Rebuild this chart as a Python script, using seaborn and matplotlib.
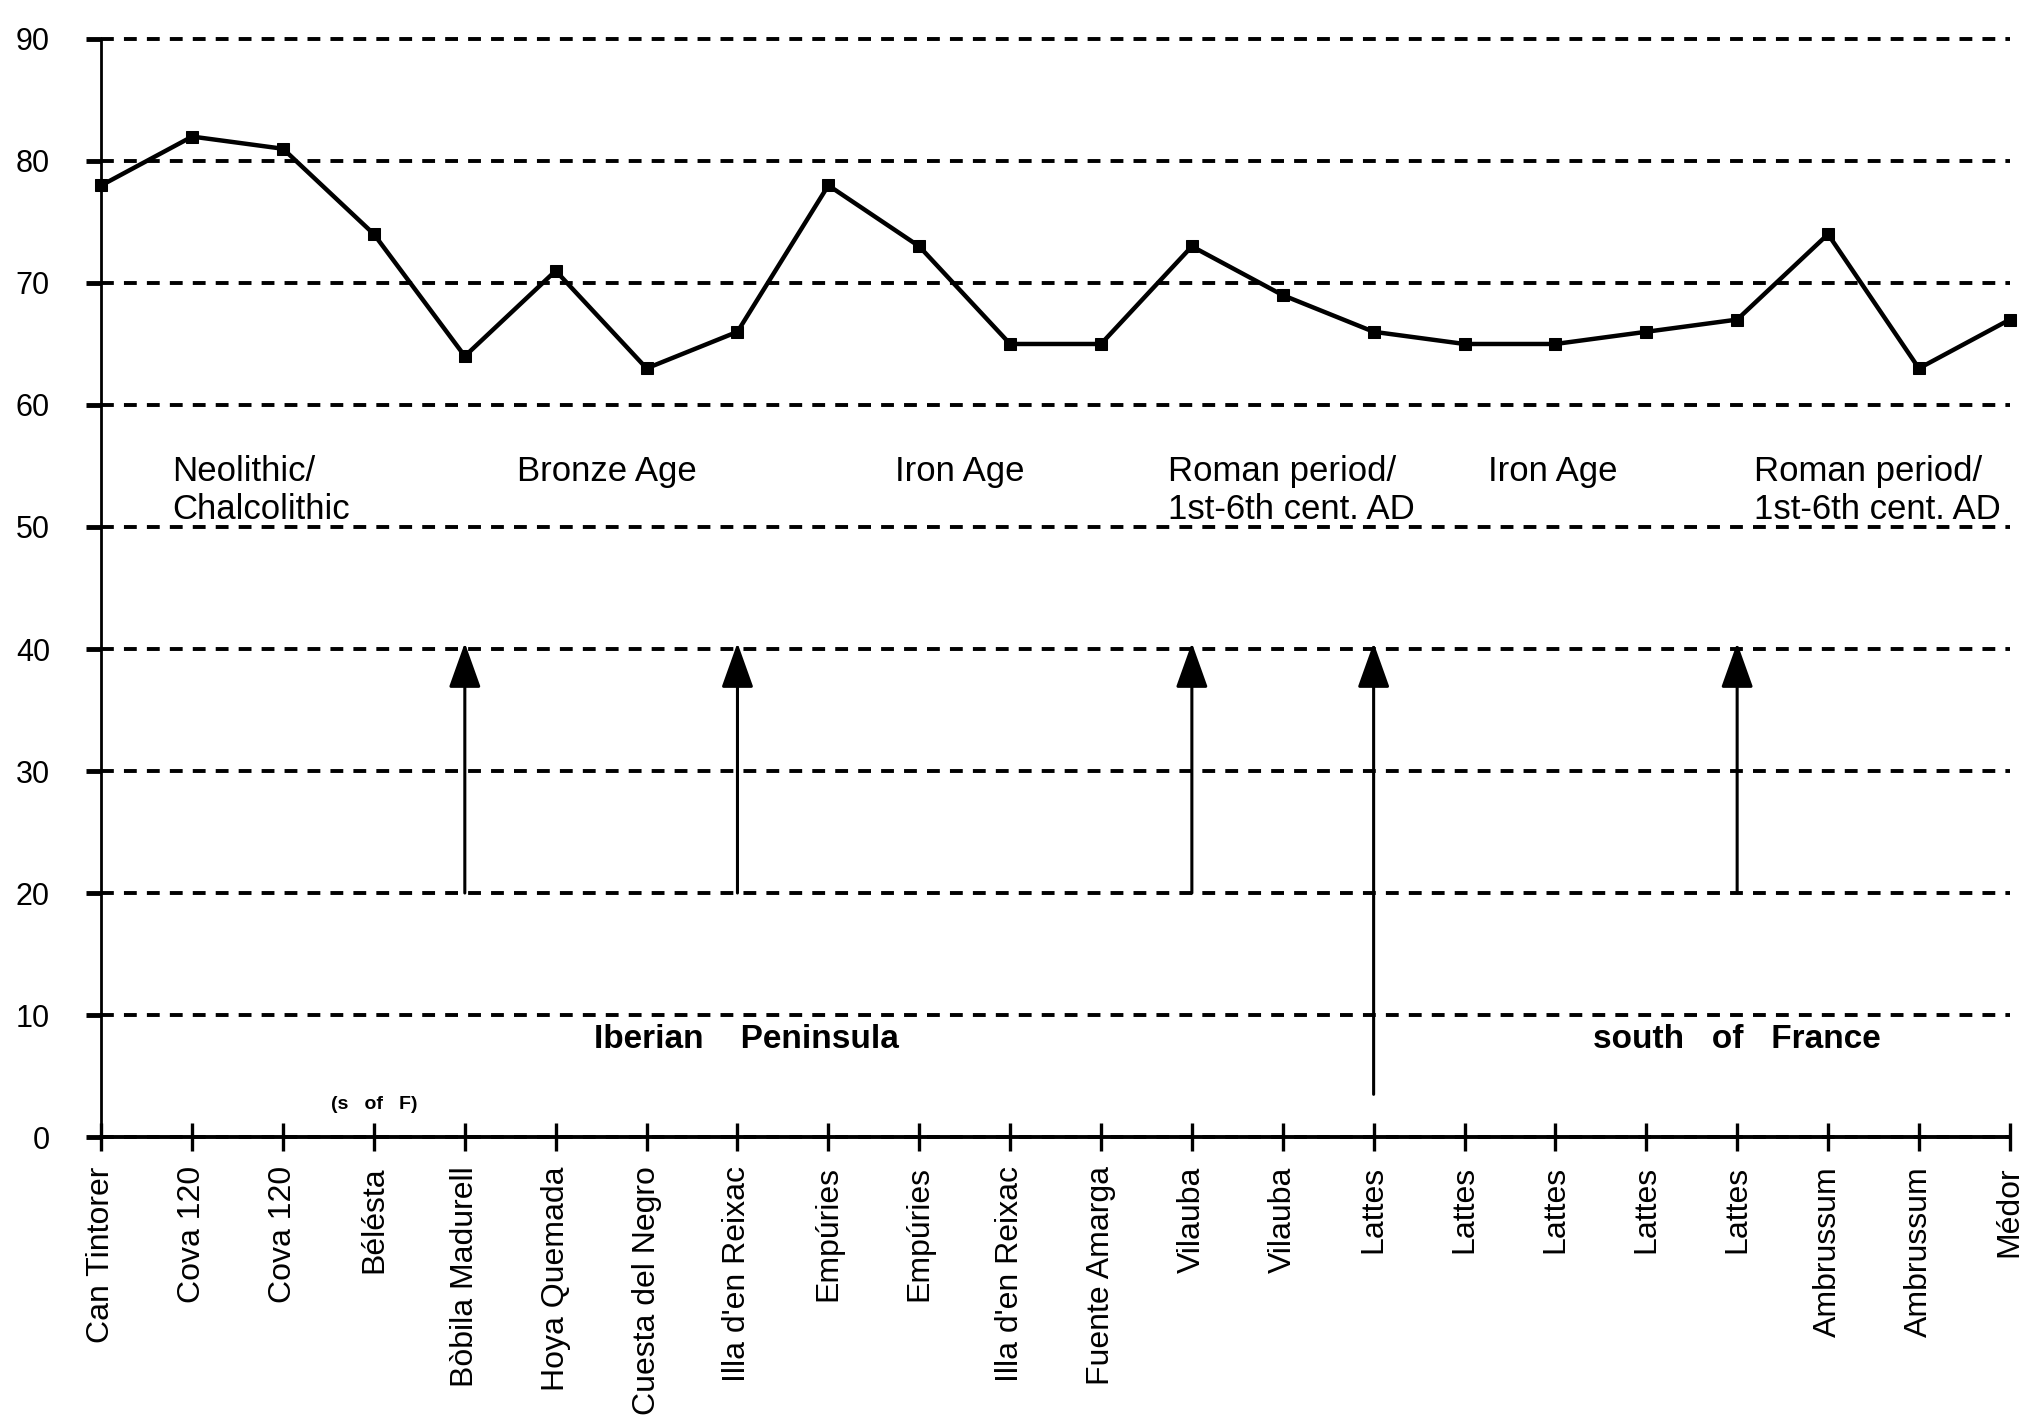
import numpy as np
import pandas as pd
import seaborn as sns
from matplotlib import pyplot as plt

# sites along the x axis (one point each)
sites = ["Can Tintorer", "Cova 120", "Cova 120", "Bélésta", "Bòbila Madurell",
         "Hoya Quemada", "Cuesta del Negro", "Illa d'en Reixac", "Empúries",
         "Empúries", "Illa d'en Reixac", "Fuente Amarga", "Vilauba", "Vilauba",
         "Lattes", "Lattes", "Lattes", "Lattes", "Lattes", "Ambrussum",
         "Ambrussum", "Médor"]
values = [78, 82, 81, 74, 64, 71, 63, 66, 78, 73, 65, 65, 73, 69,
          66, 65, 65, 66, 67, 74, 63, 67]

# period boundaries (arrows), by site index
arrow_site = [4, 7, 12, 14, 18]
arrow_from = [20, 20, 20, 3.5, 20]
arrow_to = [40.5, 40.5, 40.5, 40.5, 40.5]

periods = ["Neolithic/\nChalcolithic", "Bronze Age", "Iron Age",
           "Roman period/\n1st-6th cent. AD", "Iron Age",
           "Roman period/\n1st-6th cent. AD"]
period_x = [0.78, 5.56, 9.45, 11.74, 15.97, 18.18]
period_ha = ["left", "center", "center", "left", "center", "left"]

regions = ["Iberian    Peninsula", "south   of   France"]
region_x = [7.1, 18.0]

sns.set_style("white")
plt.rcParams['font.family'] = ['Liberation Sans', 'DejaVu Sans']
plt.rcParams['text.color'] = 'black'
plt.rcParams['xtick.color'] = 'black'
plt.rcParams['ytick.color'] = 'black'

df = pd.DataFrame({"pos": np.arange(len(sites)), "value": values})

fig = plt.figure(figsize=(20.26, 14.22), dpi=100)
ax = fig.add_axes([0.05, 0.2004, 0.942, 0.7722])

sns.lineplot(data=df, x="pos", y="value", color="black", lw=3.2,
             marker="s", markersize=8, markeredgecolor="black",
             clip_on=False, zorder=5, ax=ax)

# arrows
for s, a, b in zip(arrow_site, arrow_from, arrow_to):
    ax.annotate("", xy=(s, b), xytext=(s, a),
                arrowprops=dict(arrowstyle="-|>,head_length=0.7,head_width=0.25",
                                mutation_scale=40, color="black", lw=2.2,
                                shrinkA=0, shrinkB=0))

# period labels
for lab, x, ha in zip(periods, period_x, period_ha):
    ax.text(x, 55.9, lab, fontsize=25, ha=ha, va="top", linespacing=1.2)

for lab, x in zip(regions, region_x):
    ax.text(x, 8.0, lab, fontsize=24, fontweight="bold", ha="center", va="center")
ax.text(3.0, 2.7, "(s   of   F)", fontsize=14, fontweight="bold", ha="center", va="center")

ax.set_xlim(0, len(sites) - 1)
ax.set_ylim(0, 90)
ax.set_xticks(df["pos"])
ax.set_xticklabels(sites)
ax.set_yticks(range(0, 91, 10))
ax.set_xlabel("")
ax.set_ylabel("")

ax.yaxis.grid(True, color="black", lw=2.8, linestyle=(0, (3.3, 2.6)))
ax.xaxis.grid(False)
ax.set_axisbelow(True)
for gl in ax.get_ygridlines():
    gl.set_clip_on(False)

ax.tick_params(axis="x", direction="inout", length=20, width=2.4, pad=11,
               labelsize=23, labelrotation=90, bottom=True)
ax.tick_params(axis="y", direction="out", length=11, width=3.5, pad=26,
               labelsize=22, left=True)

sns.despine(ax=ax)
ax.spines["left"].set_linewidth(2)
ax.spines["bottom"].set_linewidth(2.8)
ax.spines["left"].set_color("black")
ax.spines["bottom"].set_color("black")

plt.savefig("out.png", dpi=100)
